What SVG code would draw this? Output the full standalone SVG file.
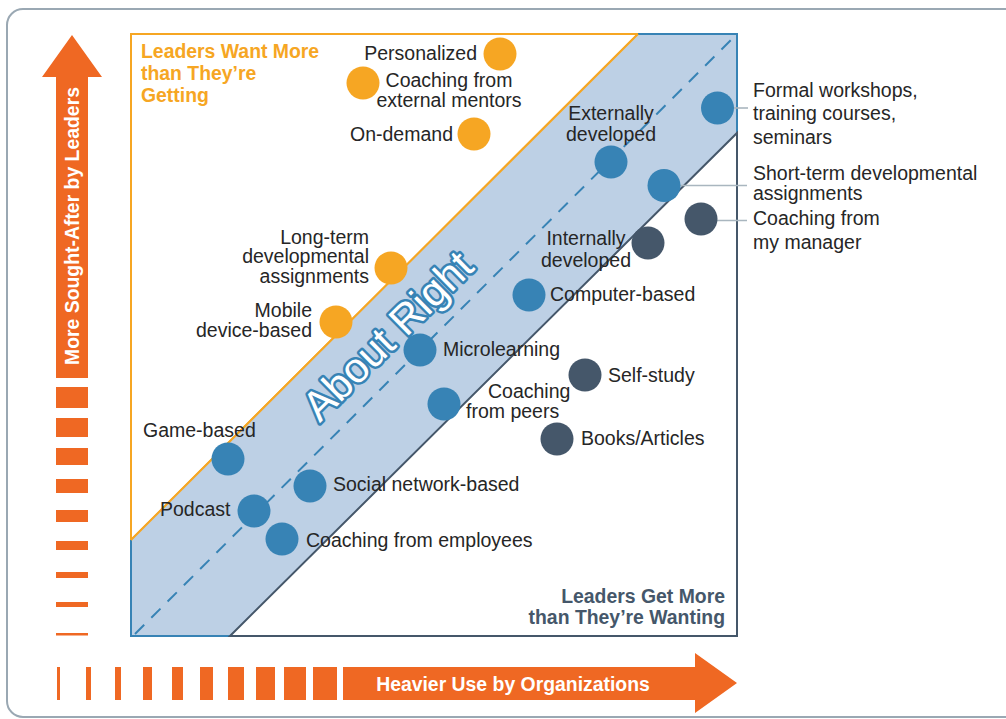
<svg xmlns="http://www.w3.org/2000/svg" width="1006" height="719" viewBox="0 0 1006 719">
<style>
  .lbl { font-family: "Liberation Sans", Arial, sans-serif; font-size: 19.5px; fill: #262626; }
  .r { text-anchor: end; }
  .m { text-anchor: middle; }
  .ttl { font-family: "Liberation Sans", Arial, sans-serif; font-size: 19.4px; font-weight: bold; }
  .ax { font-family: "Liberation Sans", Arial, sans-serif; font-size: 19.4px; font-weight: bold; fill: #ffffff; }
  .or { fill: #f6a623; }
  .bl { fill: #3783b5; }
  .dk { fill: #45576a; }
  .arr { fill: #ef6823; }
  .lead { stroke: #a9b6bf; stroke-width: 1.6; fill: none; }
</style>
<rect width="1006" height="719" fill="#ffffff"/>
<!-- outer frame -->
<rect x="7" y="9" width="1030" height="708" rx="16" ry="16" fill="none" stroke="#9aa8b3" stroke-width="2"/>

<!-- quadrant regions -->
<g id="regions">
  <polygon points="131,540 131,34 638,34" fill="#ffffff" stroke="#f6a623" stroke-width="2" stroke-linejoin="miter"/>
  <polygon points="131,540 638,34 737,34 737,133 230,636 131,636" fill="#bdd0e5"/>
  <polyline points="131,540 131,636 230,636" fill="none" stroke="#3783b5" stroke-width="2"/>
  <polyline points="638,34 737,34 737,133" fill="none" stroke="#3783b5" stroke-width="2"/>
  <polygon points="230,636 737,133 737,636" fill="#ffffff" stroke="#45576a" stroke-width="2"/>
  <line x1="131" y1="540" x2="638" y2="34" stroke="#f6a623" stroke-width="2"/>
  <line x1="135" y1="634" x2="733" y2="38" stroke="#3783b5" stroke-width="2" stroke-dasharray="13 10"/>
</g>

<text class="ttl" fill="#f6a623" x="141" y="58">Leaders Want More</text>
<text class="ttl" fill="#f6a623" x="141" y="80">than They’re</text>
<text class="ttl" fill="#f6a623" x="141" y="102">Getting</text>
<text class="ttl r" fill="#45576a" x="725" y="603">Leaders Get More</text>
<text class="ttl r" fill="#45576a" x="725" y="624">than They’re Wanting</text>

<text transform="translate(388,336) rotate(-44.7)" x="0" y="14" text-anchor="middle" font-family="'Liberation Sans', Arial, sans-serif" font-size="42" fill="#ffffff" stroke="#3783b5" stroke-width="5" paint-order="stroke" stroke-linejoin="round">About Right</text>

<!-- connectors -->
<g id="connectors">
  <line class="lead" x1="723" y1="108" x2="748" y2="108"/>
  <line class="lead" x1="670" y1="185.5" x2="747" y2="185.5"/>
  <line class="lead" x1="707" y1="220.5" x2="747" y2="220.5"/>
</g>

<!-- nodes -->
<g id="personalized"><circle class="or" cx="500" cy="54" r="16.5"/><text class="lbl r" x="477" y="60">Personalized</text></g>
<g id="coaching-external"><circle class="or" cx="363" cy="83" r="16.5"/><text class="lbl m" x="449" y="87">Coaching from</text><text class="lbl m" x="449" y="106.5">external mentors</text></g>
<g id="on-demand"><circle class="or" cx="474" cy="134" r="16.5"/><text class="lbl r" x="453" y="141">On-demand</text></g>
<g id="long-term"><circle class="or" cx="391" cy="268" r="16.5"/><text class="lbl r" x="369" y="243.5">Long-term</text><text class="lbl r" x="369" y="263">developmental</text><text class="lbl r" x="369" y="282.5">assignments</text></g>
<g id="mobile"><circle class="or" cx="336" cy="322" r="16.5"/><text class="lbl r" x="312" y="317">Mobile</text><text class="lbl r" x="312" y="336.5">device-based</text></g>

<g id="externally-developed"><circle class="bl" cx="611" cy="162" r="16.5"/><text class="lbl m" x="611" y="120">Externally</text><text class="lbl m" x="611" y="141">developed</text></g>
<g id="formal-workshops"><circle class="bl" cx="717.5" cy="108" r="16.5"/><text class="lbl" x="753" y="97">Formal workshops,</text><text class="lbl" x="753" y="120">training courses,</text><text class="lbl" x="753" y="144">seminars</text></g>
<g id="short-term"><circle class="bl" cx="664" cy="185.5" r="16.5"/><text class="lbl" x="753" y="180">Short-term developmental</text><text class="lbl" x="753" y="199.5">assignments</text></g>
<g id="computer-based"><circle class="bl" cx="529" cy="295" r="16.5"/><text class="lbl" x="550" y="301">Computer-based</text></g>
<g id="microlearning"><circle class="bl" cx="420" cy="350" r="16.5"/><text class="lbl" x="443" y="356">Microlearning</text></g>
<g id="coaching-peers"><circle class="bl" cx="444" cy="404" r="16.5"/><text class="lbl" x="488" y="398">Coaching</text><text class="lbl" x="466" y="417.5">from peers</text></g>
<g id="game-based"><circle class="bl" cx="228" cy="459" r="16.5"/><text class="lbl" x="143" y="437">Game-based</text></g>
<g id="podcast"><circle class="bl" cx="254" cy="511" r="16.5"/><text class="lbl" x="160" y="516">Podcast</text></g>
<g id="social-network"><circle class="bl" cx="310" cy="486" r="16.5"/><text class="lbl" x="333" y="491">Social network-based</text></g>
<g id="coaching-employees"><circle class="bl" cx="282" cy="539" r="16.5"/><text class="lbl" x="306" y="547">Coaching from employees</text></g>

<g id="coaching-manager"><circle class="dk" cx="701" cy="219" r="16.5"/><text class="lbl" x="753" y="225">Coaching from</text><text class="lbl" x="753" y="249">my manager</text></g>
<g id="internally-developed"><circle class="dk" cx="648" cy="243" r="16.5"/><text class="lbl m" x="586" y="245">Internally</text><text class="lbl m" x="586" y="267">developed</text></g>
<g id="self-study"><circle class="dk" cx="585" cy="375" r="16.5"/><text class="lbl" x="608" y="382">Self-study</text></g>
<g id="books-articles"><circle class="dk" cx="557" cy="439" r="16.5"/><text class="lbl" x="581" y="445">Books/Articles</text></g>

<!-- vertical axis arrow -->
<g id="y-axis">
  <polygon class="arr" points="72,35 102,77 88,77 88,378 56,378 56,77 42,77"/>
  <rect class="arr" x="56" y="387" width="32" height="21"/>
  <rect class="arr" x="56" y="418" width="32" height="19"/>
  <rect class="arr" x="56" y="448" width="32" height="17"/>
  <rect class="arr" x="56" y="479" width="32" height="14"/>
  <rect class="arr" x="56" y="510" width="32" height="12"/>
  <rect class="arr" x="56" y="541" width="32" height="9"/>
  <rect class="arr" x="56" y="572" width="32" height="6"/>
  <rect class="arr" x="56" y="602" width="32" height="5"/>
  <rect class="arr" x="56" y="633" width="32" height="2.5"/>
  <text class="ax" transform="translate(79,226) rotate(-90)" text-anchor="middle">More Sought-After by Leaders</text>
</g>

<!-- horizontal axis arrow -->
<g id="x-axis">
  <polygon class="arr" points="343,667 695,667 695,653 737,683 695,713 695,700 343,700"/>
  <rect class="arr" x="57" y="667" width="3" height="33"/>
  <rect class="arr" x="86" y="667" width="5" height="33"/>
  <rect class="arr" x="115" y="667" width="6" height="33"/>
  <rect class="arr" x="143" y="667" width="9" height="33"/>
  <rect class="arr" x="172" y="667" width="11" height="33"/>
  <rect class="arr" x="200" y="667" width="13" height="33"/>
  <rect class="arr" x="228" y="667" width="16" height="33"/>
  <rect class="arr" x="256" y="667" width="19" height="33"/>
  <rect class="arr" x="284" y="667" width="22" height="33"/>
  <rect class="arr" x="313" y="667" width="24" height="33"/>
  <text class="ax" x="513" y="691" text-anchor="middle">Heavier Use by Organizations</text>
</g>
</svg>
